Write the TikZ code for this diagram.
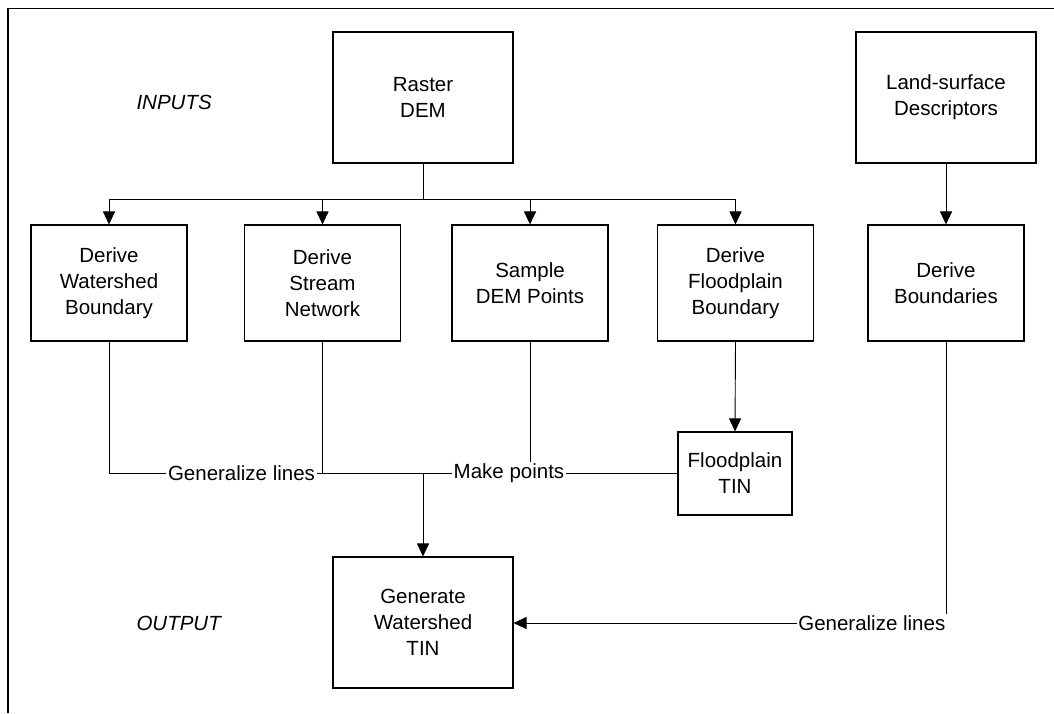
\documentclass[tikz,border=0pt]{standalone}
\usepackage{fontspec}
\setmainfont{Liberation Sans}
\usetikzlibrary{arrows.meta}
\begin{document}
\begin{tikzpicture}[x=1pt,y=-1pt,
  every node/.style={font=\fontsize{20.5}{26}\selectfont},
  bigbox/.style={draw, line width=1.1pt, align=center, minimum width=180pt, minimum height=131pt, inner sep=0pt},
  midbox/.style={draw, line width=1.1pt, align=center, minimum width=156pt, minimum height=116pt, inner sep=0pt},
  smallbox/.style={draw, line width=1.1pt, align=center, minimum width=114pt, minimum height=83pt, inner sep=0pt},
  lbl/.style={inner sep=1.5pt},
  conn/.style={line width=0.9pt},
  arr/.style={conn, -{Triangle[width=12pt,length=13pt]}}]
\useasboundingbox (0,0) rectangle (1054,713);
\draw[line width=1.2pt] (8,713) -- (8,8.5) -- (1054,8.5);

\node[anchor=west, font=\fontsize{20.5}{26}\selectfont\itshape] (inp) at (133,102) {INPUTS};
\node[anchor=west, font=\fontsize{20.5}{26}\selectfont\itshape] (outp) at (133,623) {OUTPUT};

\node[bigbox] (rd) at (423,97.5) {Raster\\DEM};
\node[bigbox] (ls) at (946,97.5) {Land-surface\\Descriptors};

\node[midbox] (wb) at (109,283) {Derive\\Watershed\\Boundary};
\node[midbox] (sn) at (322.5,283) {Derive\\Stream\\Network};
\node[midbox] (sd) at (530,283) {Sample\\DEM Points};
\node[midbox] (fb) at (735.5,283) {Derive\\Floodplain\\Boundary};
\node[midbox] (db) at (946,283) {Derive\\Boundaries};

\node[smallbox] (ft) at (735,473.5) {Floodplain\\TIN};
\node[bigbox] (gw) at (423,622.5) {Generate\\Watershed\\TIN};

\node[lbl] (gl1) at (241.5,473) {Generalize lines};
\node[lbl] (mp) at (509,473) {Make points};
\node[lbl, anchor=east] (gl2) at (947,623) {Generalize lines};

% distribution from Raster DEM
\coordinate (split) at (rd.south |- 0,199);
\draw[conn] (rd.south) -- (split);
\draw[conn] (wb.north |- split) -- (fb.north |- split);
\draw[arr] (wb.north |- split) -- (wb.north);
\draw[arr] (sn.north |- split) -- (sn.north);
\draw[arr] (sd.north |- split) -- (sd.north);
\draw[arr] (fb.north |- split) -- (fb.north);

\draw[arr] (ls.south) -- (db.north);
\draw[arr] (fb.south) -- (ft.north);

% collector
\draw[conn] (wb.south) |- (gl1.west);
\draw[conn] (gl1.east) -- (mp.west);
\draw[conn] (sn.south) -- (sn.south |- gl1.east);
\draw[conn] (sd.south) -- (sd.south |- mp.north);
\draw[conn] (mp.east) -- (ft.west |- mp.east);
\coordinate (join) at (gw.north |- gl1.east);
\draw[arr] (join) -- (gw.north);

\draw[conn] (db.south) -- (db.south |- gl2.north);
\draw[arr] (gl2.west) -- (gw.east |- gl2.west);
\end{tikzpicture}
\end{document}
